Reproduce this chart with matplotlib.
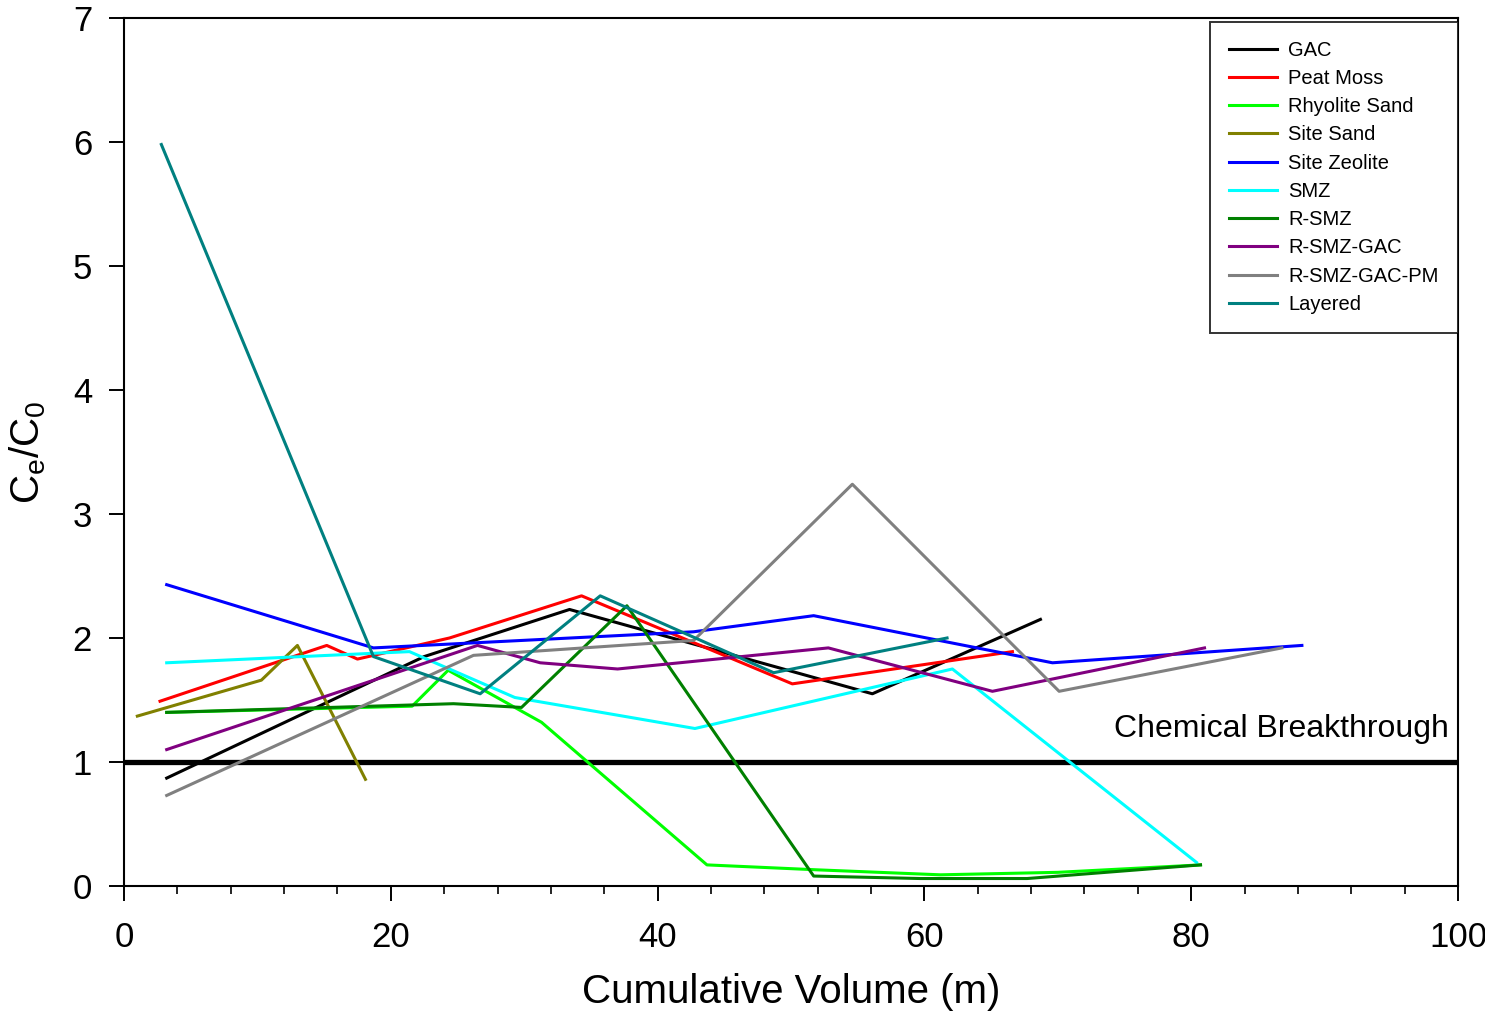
import matplotlib
matplotlib.use("Agg")
import matplotlib.pyplot as plt
from matplotlib.ticker import MultipleLocator

plt.rcParams['font.family'] = ['Liberation Sans', 'DejaVu Sans']

# data (cumulative volume, Ce/C0)
gac_x = [3.2, 22.5, 33.4, 56.1, 68.7]
gac_y = [0.87, 1.85, 2.23, 1.55, 2.15]

peat_x = [2.7, 15.2, 17.5, 24.4, 34.3, 50.1, 66.6]
peat_y = [1.49, 1.94, 1.83, 2.0, 2.34, 1.63, 1.89]

rhy_x = [3.2, 21.6, 24.3, 31.3, 43.7, 52.0, 61.2, 70.0, 80.7]
rhy_y = [1.40, 1.45, 1.74, 1.32, 0.17, 0.13, 0.09, 0.11, 0.17]

sand_x = [1.0, 10.3, 13.0, 18.1]
sand_y = [1.37, 1.66, 1.94, 0.86]

zeo_x = [3.2, 18.7, 42.7, 51.7, 69.6, 88.3]
zeo_y = [2.43, 1.92, 2.05, 2.18, 1.80, 1.94]

smz_x = [3.2, 21.4, 29.3, 42.8, 62.1, 80.4]
smz_y = [1.80, 1.89, 1.52, 1.27, 1.75, 0.19]

rsmz_x = [3.2, 24.7, 29.8, 37.7, 51.7, 59.7, 67.7, 80.7]
rsmz_y = [1.40, 1.47, 1.44, 2.26, 0.08, 0.06, 0.06, 0.17]

rsg_x = [3.2, 26.5, 31.2, 37.0, 52.8, 65.1, 81.0]
rsg_y = [1.10, 1.94, 1.80, 1.75, 1.92, 1.57, 1.92]

rsgp_x = [3.2, 26.2, 42.7, 54.6, 70.1, 86.8]
rsgp_y = [0.73, 1.86, 1.98, 3.24, 1.57, 1.92]

lay_x = [2.8, 18.7, 26.7, 35.7, 48.7, 61.7]
lay_y = [5.98, 1.85, 1.55, 2.34, 1.72, 2.0]

series = [
    ('GAC', gac_x, gac_y, 'black'),
    ('Peat Moss', peat_x, peat_y, '#ff0000'),
    ('Rhyolite Sand', rhy_x, rhy_y, '#00ff00'),
    ('Site Sand', sand_x, sand_y, '#808000'),
    ('Site Zeolite', zeo_x, zeo_y, '#0000ff'),
    ('SMZ', smz_x, smz_y, '#00ffff'),
    ('R-SMZ', rsmz_x, rsmz_y, '#008000'),
    ('R-SMZ-GAC', rsg_x, rsg_y, '#800080'),
    ('R-SMZ-GAC-PM', rsgp_x, rsgp_y, '#808080'),
    ('Layered', lay_x, lay_y, '#008080'),
]

fig = plt.figure(figsize=(14.85, 10.13), dpi=100)
ax = fig.add_axes([0.0835, 0.1254, 0.8983, 0.8568])

for name, xs, ys, c in series:
    ax.plot(xs, ys, color=c, lw=2.2, label=name)

# breakthrough line
ax.axhline(1, color='black', lw=3.8, zorder=1)
ax.text(99.3, 1.27, 'Chemical Breakthrough', ha='right', va='center', fontsize=23)

ax.set_xlim(0, 100)
ax.set_ylim(0, 7)
ax.xaxis.set_major_locator(MultipleLocator(20))
ax.xaxis.set_minor_locator(MultipleLocator(4))
ax.yaxis.set_major_locator(MultipleLocator(1))
ax.tick_params(which='major', direction='out', length=11, width=1.4, labelsize=25)
ax.tick_params(axis='x', which='major', pad=14)
ax.tick_params(axis='y', which='major', pad=12)
ax.tick_params(which='minor', direction='out', length=6, width=1.2)
for s in ax.spines.values():
    s.set_linewidth(1.5)

ax.set_xlabel('Cumulative Volume (m)', fontsize=29, labelpad=14)
ax.set_ylabel(r'C$_\mathregular{e}$/C$_\mathregular{0}$', fontsize=29, labelpad=18)

leg = ax.legend(loc='upper right', bbox_to_anchor=(1.0, 0.996), fontsize=14.5,
                frameon=True, fancybox=False, edgecolor='black', borderaxespad=0,
                handlelength=2.4, handletextpad=0.55, labelspacing=0.46,
                borderpad=0.95)
leg.get_frame().set_linewidth(1.4)

fig.savefig('out.png', dpi=100)
